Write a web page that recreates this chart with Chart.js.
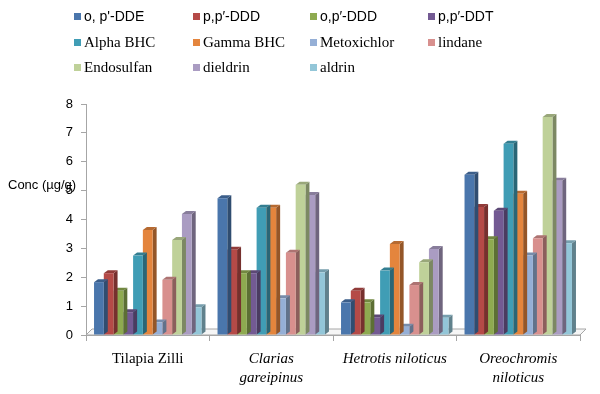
<!DOCTYPE html>
<html>
<head>
<meta charset="utf-8">
<script src="https://cdn.jsdelivr.net/npm/chart.js@4.4.1/dist/chart.umd.min.js"></script>
<style>
  html, body { margin: 0; padding: 0; background: #fff; }
  #wrap { position: relative; width: 600px; height: 394px; }
  #legend { position: absolute; left: 74px; top: 6px; width: 520px; }
  .item { position: absolute; white-space: nowrap; font-family: "Liberation Serif", serif; font-size: 15px; color: #000; line-height: 20px; }
  .item.sans { font-family: "Liberation Sans", sans-serif; font-size: 14px; }
  .box { display: inline-block; width: 7px; height: 7px; margin-right: 3px; vertical-align: 1px; }
</style>
</head>
<body>
<div id="wrap">
  <canvas id="chart" width="600" height="394"></canvas>
  <div id="legend"></div>
</div>
<script>
// fish species on the x axis
const categories = ['Tilapia Zilli', ['Clarias', 'gareipinus'], 'Hetrotis niloticus', ['Oreochromis', 'niloticus']];
const yTicks = [0, 1, 2, 3, 4, 5, 6, 7, 8];

const seriesNames = ["o, p'-DDE", 'p,p′-DDD', 'o,p′-DDD', 'p,p′-DDT', 'Alpha BHC', 'Gamma BHC',
  'Metoxichlor', 'lindane', 'Endosulfan', 'dieldrin', 'aldrin'];
const seriesColors = ['#4a76ac', '#b54a47', '#8eaa50', '#735a93', '#409db5', '#e4853d',
  '#95afd6', '#d8908e', '#bfd199', '#aa9cc2', '#93c6d8'];

// concentrations (µg/g), one value per species
const opDDE = [1.83, 4.74, 1.13, 5.55];
const ppDDD = [2.14, 2.95, 1.53, 4.43];
const opDDD = [1.53, 2.14, 1.13, 3.32];
const ppDDT = [0.79, 2.14, 0.61, 4.30];
const alphaBHC = [2.75, 4.41, 2.23, 6.62];
const gammaBHC = [3.64, 4.41, 3.15, 4.89];
const metoxichlor = [0.43, 1.27, 0.29, 2.75];
const lindane = [1.91, 2.85, 1.73, 3.35];
const endosulfan = [3.29, 5.20, 2.52, 7.55];
const dieldrin = [4.19, 4.85, 2.98, 5.34];
const aldrin = [0.96, 2.17, 0.60, 3.18];

const seriesValues = [opDDE, ppDDD, opDDD, ppDDT, alphaBHC, gammaBHC, metoxichlor, lindane, endosulfan, dieldrin, aldrin];

function shade(hex, f) {
  const n = parseInt(hex.slice(1), 16);
  let r = (n >> 16) & 255, g = (n >> 8) & 255, b = n & 255;
  if (f < 0) { r *= 1 + f; g *= 1 + f; b *= 1 + f; }
  else { r += (255 - r) * f; g += (255 - g) * f; b += (255 - b) * f; }
  return `rgb(${Math.round(r)},${Math.round(g)},${Math.round(b)})`;
}

// side and top faces for a pseudo 3D look
const depthX = 4, depthY = 3;
const bar3d = {
  id: 'bar3d',
  beforeDatasetsDraw(chart) {
    const { ctx, chartArea } = chart;
    const base = chart.scales.y.getPixelForValue(0);
    ctx.save();
    ctx.beginPath();
    ctx.moveTo(chartArea.left, base);
    ctx.lineTo(chartArea.right, base);
    ctx.lineTo(chartArea.right + 6, base - 6);
    ctx.lineTo(chartArea.left + 6, base - 6);
    ctx.closePath();
    ctx.fillStyle = '#f6f6f6';
    ctx.fill();
    ctx.strokeStyle = '#a6a6a6';
    ctx.lineWidth = 1;
    ctx.stroke();
    ctx.restore();
  },
  beforeDatasetDraw(chart, args) {
    const { ctx } = chart;
    const color = seriesColors[args.index];
    ctx.save();
    args.meta.data.forEach(el => {
      const l = el.x - el.width / 2, r = el.x + el.width / 2, t = el.y, b = el.base;
      ctx.fillStyle = shade(color, -0.35);
      ctx.beginPath();
      ctx.moveTo(r, t); ctx.lineTo(r + depthX, t - depthY);
      ctx.lineTo(r + depthX, b - depthY); ctx.lineTo(r, b);
      ctx.closePath(); ctx.fill();
      ctx.fillStyle = shade(color, -0.2);
      ctx.beginPath();
      ctx.moveTo(l, t); ctx.lineTo(l + depthX, t - depthY);
      ctx.lineTo(r + depthX, t - depthY); ctx.lineTo(r, t);
      ctx.closePath(); ctx.fill();
    });
    ctx.restore();
  },
  afterDraw(chart) {
    const { ctx } = chart;
    ctx.save();
    ctx.font = '13px "Liberation Sans", sans-serif';
    ctx.fillStyle = '#000';
    ctx.textBaseline = 'middle';
    ctx.fillText('Conc (µg/g)', 8, 185);
    ctx.restore();
  }
};

// legend in fixed columns, like the original
const legend = document.getElementById('legend');
seriesNames.forEach((name, i) => {
  const div = document.createElement('div');
  div.className = 'item' + (i < 4 ? ' sans' : '');
  div.style.left = [0, 119, 236, 354][i % 4] + 'px';
  div.style.top = Math.floor(i / 4) * 25.5 + 'px';
  div.innerHTML = `<span class="box" style="background:${seriesColors[i]}"></span>`;
  div.appendChild(document.createTextNode(name));
  legend.appendChild(div);
});

const ctx = document.getElementById('chart').getContext('2d');
new Chart(ctx, {
  type: 'bar',
  data: {
    labels: categories,
    datasets: seriesNames.map((name, i) => ({
      label: name,
      data: seriesValues[i],
      backgroundColor: seriesColors[i],
      borderWidth: 0,
      categoryPercentage: 0.87,
      barPercentage: 1.0
    }))
  },
  options: {
    responsive: false,
    animation: false,
    layout: { padding: { top: 104, right: 20, left: 0, bottom: 0 } },
    plugins: {
      legend: { display: false },
      tooltip: { enabled: false }
    },
    scales: {
      x: {
        grid: { drawOnChartArea: false, tickLength: 6, color: '#a6a6a6', offset: true },
        border: { color: '#a6a6a6' },
        ticks: {
          color: '#000',
          padding: 9,
          maxRotation: 0,
          font: (c) => ({ family: '"Liberation Serif", serif', size: 15, style: c.index > 0 ? 'italic' : 'normal', lineHeight: 1.25 })
        },
        afterFit: (scale) => { scale.height = 59; }
      },
      y: {
        min: 0,
        max: 8,
        afterBuildTicks: (scale) => { scale.ticks = yTicks.map(v => ({ value: v })); },
        grid: { drawOnChartArea: false, tickLength: 5, color: '#a6a6a6' },
        border: { color: '#a6a6a6' },
        ticks: {
          color: '#000',
          padding: 8,
          font: { family: '"Liberation Sans", sans-serif', size: 13 }
        },
        afterFit: (scale) => { scale.width = 86; }
      }
    }
  },
  plugins: [bar3d]
});
</script>
</body>
</html>
